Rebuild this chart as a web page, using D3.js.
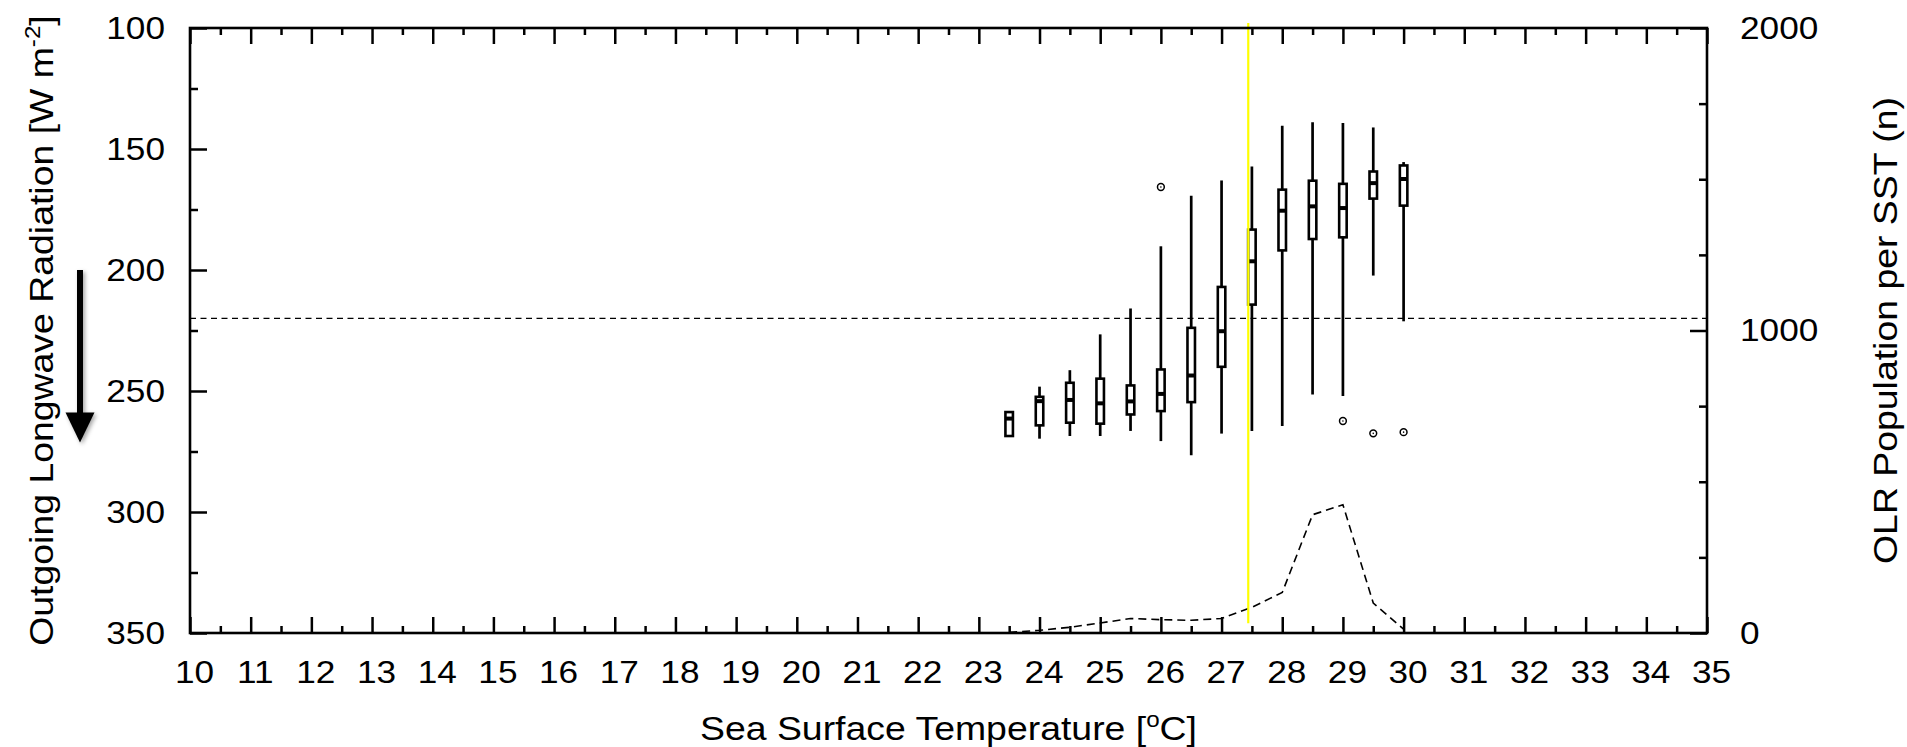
<!DOCTYPE html>
<html>
<head>
<meta charset="utf-8">
<script src="https://cdn.jsdelivr.net/npm/d3@7"></script>
<style>
  body { margin: 0; background: #fff; }
  svg text { font-family: "Liberation Sans", Arial, Helvetica, sans-serif; fill: #000; }
</style>
</head>
<body>
<div id="chart"></div>
<script>
// box statistics per SST bin (OLR, W m-2)
var sst      = [23.5, 24, 24.5, 25, 25.5, 26, 26.5, 27, 27.5, 28, 28.5, 29, 29.5, 30];
var olrTop   = [258.7, 248.2, 241.4, 226.6, 215.9, 190.2, 169.3, 163.0, 157.2, 140.4, 138.9, 139.3, 141.1, 155.4];
var olrQ1    = [258.7, 252.4, 246.6, 244.9, 247.7, 241.1, 223.9, 207.0, 183.3, 166.8, 163.1, 164.4, 159.3, 156.8];
var olrMed   = [261.4, 254.2, 253.7, 255.1, 254.3, 251.2, 243.6, 225.3, 196.4, 175.5, 173.7, 174.4, 164.1, 162.4];
var olrQ3    = [268.6, 264.2, 263.1, 263.5, 259.7, 258.3, 254.6, 240.0, 214.3, 191.9, 187.2, 186.5, 170.5, 173.4];
var olrBot   = [268.6, 269.7, 268.6, 268.6, 266.5, 270.7, 276.6, 267.6, 266.5, 264.5, 251.4, 252.1, 202.3, 221.2];
// OLR population per SST bin (right axis)
var population = [2, 9, 19, 33, 48, 44, 42, 48, 85, 134, 391, 424, 99, 13];
// outliers
var outlierSst = [26, 29, 29.5, 30];
var outlierOlr = [165.7, 262.4, 267.5, 267.0];

var olrThreshold = 220;
var sstThreshold = 27.44;

var xTicks = d3.range(10, 36, 1);
var xMinor = d3.range(10.5, 35, 1);
var yTicks = [100, 150, 200, 250, 300, 350];
var yMinor = [125, 175, 225, 275, 325];
var nTicks = [0, 1000, 2000];
var nMinor = [250, 500, 750, 1250, 1500, 1750];

var W = 1907, H = 747;
var margin = {top: 28, right: 200, bottom: 114, left: 190};
var sx = 1.1; // glyphs are a bit wider than Arial

var svg = d3.select("#chart").append("svg")
    .attr("width", W)
    .attr("height", H);

var x = d3.scaleLinear().domain([10, 35]).range([margin.left, W - margin.right]);
var y = d3.scaleLinear().domain([100, 350]).range([margin.top, H - margin.bottom]);
var yN = d3.scaleLinear().domain([0, 2000]).range([H - margin.bottom, margin.top]);

var defs = svg.append("defs");
var f = defs.append("filter").attr("id", "shadow").attr("x", "-50%").attr("y", "-20%")
    .attr("width", "200%").attr("height", "140%");
f.append("feDropShadow").attr("dx", 2).attr("dy", 2).attr("stdDeviation", 2)
    .attr("flood-color", "#000").attr("flood-opacity", 0.35);

// threshold OLR line
svg.append("line")
    .attr("x1", x(10)).attr("x2", x(35))
    .attr("y1", y(olrThreshold)).attr("y2", y(olrThreshold))
    .attr("stroke", "#000").attr("stroke-width", 1.3)
    .attr("stroke-dasharray", "6,4.5");

// population dashed line
var line = d3.line()
    .x(function (d, i) { return x(sst[i]); })
    .y(function (d) { return yN(d); });

svg.append("path")
    .datum(population)
    .attr("d", line)
    .attr("fill", "none")
    .attr("stroke", "#000")
    .attr("stroke-width", 1.6)
    .attr("stroke-dasharray", "8,5");

// boxes
var boxW = 7.5;
var g = svg.selectAll(".box")
    .data(sst)
    .enter().append("g")
    .attr("class", "box");

g.append("line")
    .attr("x1", function (d) { return x(d); })
    .attr("x2", function (d) { return x(d); })
    .attr("y1", function (d, i) { return y(olrTop[i]); })
    .attr("y2", function (d, i) { return y(olrBot[i]); })
    .attr("stroke", "#000").attr("stroke-width", 2.7);

g.append("rect")
    .attr("x", function (d) { return x(d) - boxW / 2; })
    .attr("y", function (d, i) { return y(olrQ1[i]); })
    .attr("width", boxW)
    .attr("height", function (d, i) { return y(olrQ3[i]) - y(olrQ1[i]); })
    .attr("fill", "#fff").attr("stroke", "#000").attr("stroke-width", 2.6);

g.append("line")
    .attr("x1", function (d) { return x(d) - boxW / 2; })
    .attr("x2", function (d) { return x(d) + boxW / 2; })
    .attr("y1", function (d, i) { return y(olrMed[i]); })
    .attr("y2", function (d, i) { return y(olrMed[i]); })
    .attr("stroke", "#000").attr("stroke-width", 4);

// outliers
var o = svg.selectAll(".outlier")
    .data(outlierSst)
    .enter().append("g")
    .attr("class", "outlier")
    .attr("transform", function (d, i) { return "translate(" + x(d) + "," + y(outlierOlr[i]) + ")"; });
o.append("circle").attr("r", 3.4).attr("fill", "#fff").attr("stroke", "#000").attr("stroke-width", 1.5);
o.append("circle").attr("r", 0.8).attr("fill", "#000");

// SST threshold (yellow)
svg.append("line")
    .attr("x1", x(sstThreshold)).attr("x2", x(sstThreshold))
    .attr("y1", margin.top - 5).attr("y2", y(346))
    .attr("stroke", "#ffff00").attr("stroke-width", 2.2);

// axes
function styleTicks(sel) {
  sel.select(".domain").remove();
  sel.selectAll(".tick line").attr("stroke", "#000").attr("stroke-width", 2.5);
}

var bottom = svg.append("g")
    .attr("transform", "translate(0," + (H - margin.bottom) + ")")
    .call(d3.axisBottom(x).tickValues(xTicks).tickSizeInner(-16).tickSizeOuter(0).tickPadding(27).tickFormat(d3.format("d")))
    .call(styleTicks);
bottom.selectAll("text")
    .attr("font-size", 32)
    .attr("x", 4 / sx)
    .attr("transform", "scale(" + sx + ",1)");

svg.append("g")
    .attr("transform", "translate(0," + (H - margin.bottom) + ")")
    .call(d3.axisBottom(x).tickValues(xMinor).tickSizeInner(-7).tickSizeOuter(0).tickFormat(""))
    .call(styleTicks);

svg.append("g")
    .attr("transform", "translate(0," + margin.top + ")")
    .call(d3.axisTop(x).tickValues(xTicks).tickSizeInner(-16).tickSizeOuter(0).tickFormat(""))
    .call(styleTicks);
svg.append("g")
    .attr("transform", "translate(0," + margin.top + ")")
    .call(d3.axisTop(x).tickValues(xMinor).tickSizeInner(-7).tickSizeOuter(0).tickFormat(""))
    .call(styleTicks);

var left = svg.append("g")
    .attr("transform", "translate(" + margin.left + ",0)")
    .call(d3.axisLeft(y).tickValues(yTicks).tickSizeInner(-17).tickSizeOuter(0).tickPadding(25))
    .call(styleTicks);
left.selectAll("text")
    .attr("font-size", 32)
    .attr("x", -25 / sx)
    .attr("transform", "scale(" + sx + ",1)");
svg.append("g")
    .attr("transform", "translate(" + margin.left + ",0)")
    .call(d3.axisLeft(y).tickValues(yMinor).tickSizeInner(-8).tickSizeOuter(0).tickFormat(""))
    .call(styleTicks);

var right = svg.append("g")
    .attr("transform", "translate(" + (W - margin.right) + ",0)")
    .call(d3.axisRight(yN).tickValues(nTicks).tickSizeInner(-17).tickSizeOuter(0).tickPadding(33).tickFormat(d3.format("d")))
    .call(styleTicks);
right.selectAll("text")
    .attr("font-size", 32)
    .attr("x", 33 / sx)
    .attr("transform", "scale(" + sx + ",1)");
svg.append("g")
    .attr("transform", "translate(" + (W - margin.right) + ",0)")
    .call(d3.axisRight(yN).tickValues(nMinor).tickSizeInner(-8).tickSizeOuter(0).tickFormat(""))
    .call(styleTicks);

// frame
svg.append("rect")
    .attr("x", margin.left).attr("y", margin.top)
    .attr("width", W - margin.left - margin.right)
    .attr("height", H - margin.top - margin.bottom)
    .attr("fill", "none").attr("stroke", "#000").attr("stroke-width", 2.6);

// axis titles
var midY = (margin.top + H - margin.bottom) / 2;

var xt = svg.append("text")
    .attr("text-anchor", "middle")
    .attr("font-size", 34)
    .attr("transform", "translate(" + ((margin.left + W - margin.right) / 2) + ",740) scale(" + sx + ",1)");
xt.append("tspan").text("Sea Surface Temperature [");
xt.append("tspan").attr("font-size", 22).attr("dy", -13).text("o");
xt.append("tspan").attr("dy", 13).text("C]");

var yt = svg.append("text")
    .attr("text-anchor", "middle")
    .attr("font-size", 34)
    .attr("transform", "translate(53," + midY + ") rotate(-90) scale(" + sx + ",1)");
yt.append("tspan").text("Outgoing Longwave Radiation [W m");
yt.append("tspan").attr("font-size", 22).attr("dy", -13).text("-2");
yt.append("tspan").attr("dy", 13).text("]");

svg.append("text")
    .attr("text-anchor", "middle")
    .attr("font-size", 34)
    .attr("transform", "translate(1897," + midY + ") rotate(-90) scale(" + sx + ",1)")
    .text("OLR Population per SST (n)");

// arrow: lower OLR is downward on this axis
var ax = 80, a0 = y(200), a1 = y(271.3);
var arrow = svg.append("g").attr("filter", "url(#shadow)");
arrow.append("line")
    .attr("x1", ax).attr("x2", ax)
    .attr("y1", a0).attr("y2", a1 - 20)
    .attr("stroke", "#000").attr("stroke-width", 6);
arrow.append("path")
    .attr("d", "M" + (ax - 14.5) + "," + (a1 - 30) + "L" + (ax + 14.5) + "," + (a1 - 30) + "L" + ax + "," + a1 + "Z")
    .attr("fill", "#000");
</script>
</body>
</html>
